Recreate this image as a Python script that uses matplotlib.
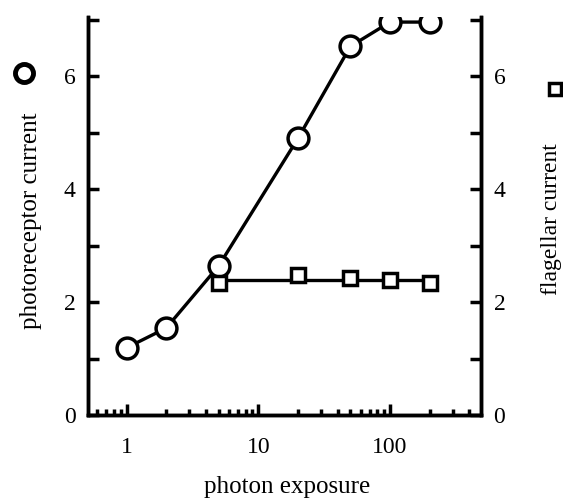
import matplotlib
matplotlib.use("Agg")
import matplotlib.pyplot as plt
from matplotlib.ticker import LogLocator, FixedLocator, NullFormatter
import numpy as np

plt.rcParams['font.family'] = ['Liberation Serif', 'DejaVu Serif']

# photoreceptor current (circles) vs photon exposure
exposure_pr = [1, 2, 5, 20, 50, 100, 200]
current_pr = [1.19, 1.54, 2.64, 4.90, 6.53, 6.96, 6.96]

# flagellar current (squares)
exposure_fl = [5, 20, 50, 100, 200]
current_fl = [2.34, 2.48, 2.42, 2.40, 2.34]

fig = plt.figure(figsize=(5.63, 4.98), dpi=100)
ax = fig.add_axes([88 / 563, 1 - 415 / 498, (481 - 88) / 563, (415 - 17) / 498])
ax2 = ax.twinx()

ax.plot(exposure_pr, current_pr, color='black', lw=2.4, marker='o', ms=15,
        mfc='white', mec='black', mew=2.5, zorder=3)
fl_mean = np.mean(current_fl)
ax2.plot([exposure_fl[0], exposure_fl[-1]], [fl_mean, fl_mean], color='black', lw=2.4, zorder=2)
ax2.plot(exposure_fl, current_fl, ls='none', marker='s', ms=10,
         mfc='white', mec='black', mew=2.5, zorder=3)

for a in (ax, ax2):
    a.set_xscale('log')
    a.set_xlim(0.51, 490)
    a.set_ylim(0, 7.05)
    for s in a.spines.values():
        s.set_linewidth(2.5)
    a.spines['top'].set_visible(False)
    a.set_yticks([0, 2, 4, 6])
    a.yaxis.set_minor_locator(FixedLocator([1, 3, 5, 7]))
    a.tick_params(axis='y', which='both', direction='in', length=8, width=2.5,
                  labelsize=17, pad=9)

ax.xaxis.set_major_locator(FixedLocator([1, 10, 100]))
ax.set_xticklabels(['1', '10', '100'])
ax.xaxis.set_minor_locator(LogLocator(base=10, subs=np.arange(2, 10), numticks=20))
ax.xaxis.set_minor_formatter(NullFormatter())
ax.tick_params(axis='x', which='major', direction='in', length=8, width=2.5,
               labelsize=17, pad=16)
ax.tick_params(axis='x', which='minor', direction='in', length=4, width=2.5)

fig.text(287 / 563, 1 - 487 / 498, 'photon exposure', ha='center', va='center',
         fontsize=18)
fig.text(31 / 563, 1 - 221 / 498, 'photoreceptor current', rotation=90,
         ha='center', va='center', fontsize=18)
fig.text(552 / 563, 1 - 219 / 498, 'flagellar current', rotation=90,
         ha='center', va='center', fontsize=17)

# symbol keys next to the axis labels
ax.plot([24 / 563], [1 - 73 / 498], transform=fig.transFigure, marker='o', ms=13,
        mfc='white', mec='black', mew=3.5, clip_on=False)
ax.plot([555 / 563], [1 - 89 / 498], transform=fig.transFigure, marker='s', ms=9,
        mfc='white', mec='black', mew=2.5, clip_on=False)

fig.savefig('out.png', dpi=100)
